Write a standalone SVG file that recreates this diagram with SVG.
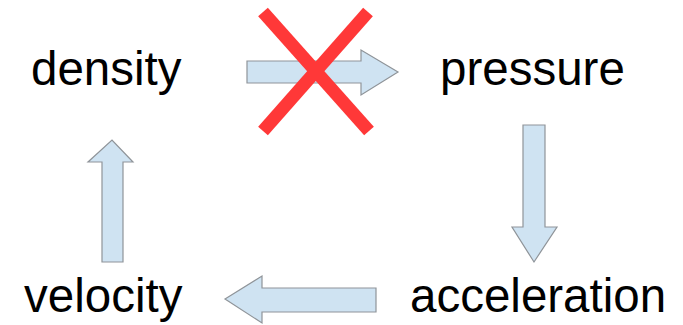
<svg xmlns="http://www.w3.org/2000/svg" width="683" height="325" viewBox="0 0 683 325">
<style>
.lbl{font-family:"Liberation Sans",Arial,sans-serif;font-size:47.5px;fill:#000}
.arr{fill:#cfe3f2;stroke:#8f9499;stroke-width:1.2;stroke-linejoin:miter}
.cross{stroke:#ff3838;stroke-width:13;stroke-linecap:butt}
</style>
<rect width="683" height="325" fill="#fff"/>
<g id="density"><text class="lbl" x="31" y="85">density</text></g>
<g id="pressure"><text class="lbl" x="440" y="85">pressure</text></g>
<g id="acceleration"><text class="lbl" x="410" y="312">acceleration</text></g>
<g id="velocity"><text class="lbl" x="24" y="312">velocity</text></g>
<g id="connectors">
<polygon class="arr" points="247,61 361,61 361,50 398,72 361,95 361,83 247,83"/>
<polygon class="arr" points="523,125 545,125 545,227 557,227 534,262 512,227 523,227"/>
<polygon class="arr" points="376,288 376,312 262,312 262,323 225,299 262,276 262,288"/>
<polygon class="arr" points="102,262 123,262 123,162 133,162 112,140 88,162 102,162"/>
</g>
<g id="cross">
<line class="cross" x1="263" y1="12" x2="369" y2="131"/>
<line class="cross" x1="368" y1="12" x2="263" y2="131"/>
</g>
</svg>
